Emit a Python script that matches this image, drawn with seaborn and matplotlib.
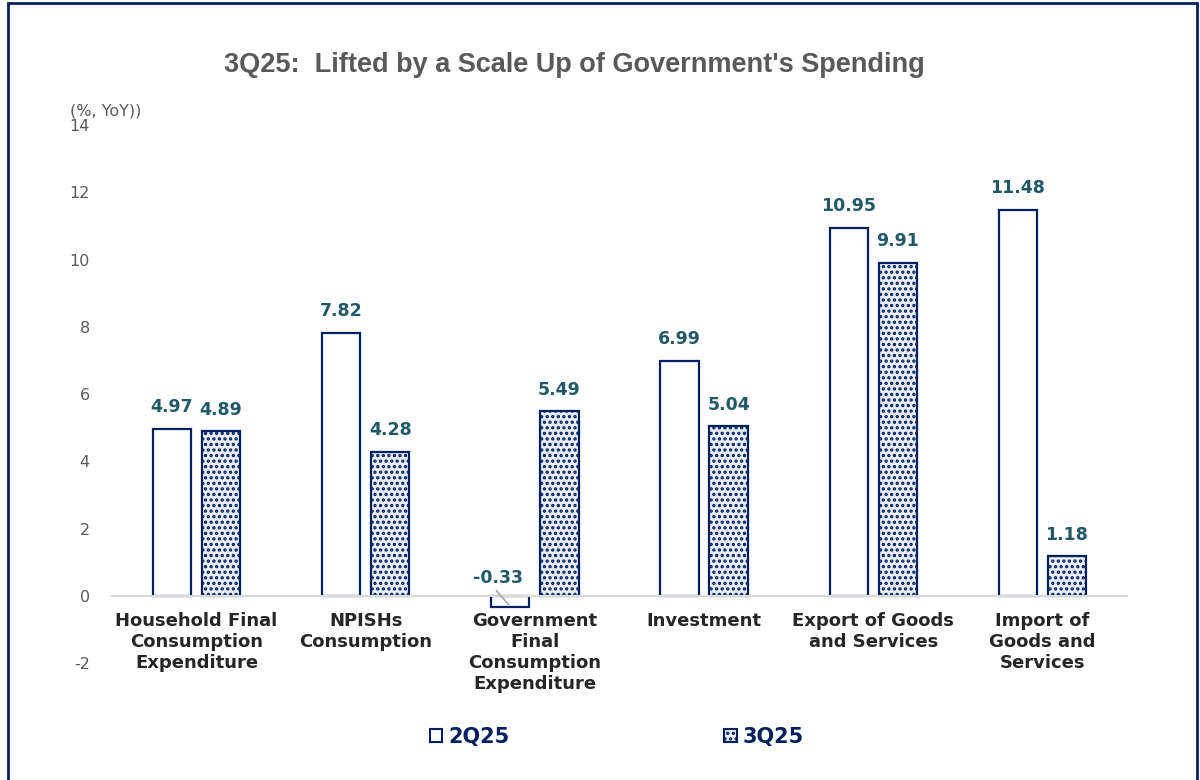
import pandas as pd
import numpy as np
import seaborn as sns
import matplotlib.pyplot as plt
from matplotlib.patches import Patch, Rectangle

# Chart data
categories = ['Household Final\nConsumption\nExpenditure', 'NPISHs\nConsumption',
              'Government\nFinal\nConsumption\nExpenditure', 'Investment',
              'Export of Goods\nand Services', 'Import of\nGoods and\nServices']
q2_values = [4.97, 7.82, -0.33, 6.99, 10.95, 11.48]
q3_values = [4.89, 4.28, 5.49, 5.04, 9.91, 1.18]
series = ['2Q25', '3Q25']
y_ticks = [-2, 0, 2, 4, 6, 8, 10, 12, 14]

navy = '#002060'
teal = '#215968'
grey = '#595959'

df = pd.DataFrame({
    'category': categories * 2,
    'value': q2_values + q3_values,
    'period': [series[0]] * len(categories) + [series[1]] * len(categories),
})

sns.set_style('white')
plt.rcParams['font.family'] = ['DejaVu Sans']
plt.rcParams['axes.unicode_minus'] = False
plt.rcParams['hatch.linewidth'] = 1.6

fig = plt.figure(figsize=(12, 7.8), dpi=100)
ax = fig.add_axes([0.0933, 0.15, 0.8458, 0.6897])

sns.barplot(data=df, x='category', y='value', hue='period', order=categories,
            hue_order=series, palette=['white', '#E9EDF5'], width=0.58, gap=0.22,
            edgecolor=navy, linewidth=1.6, legend=False, ax=ax)

# dotted fill for 3Q25
for bar in ax.containers[1]:
    bar.set_hatch('...')

ax.set_ylim(-2, 14)
ax.set_yticks(y_ticks)
ax.set_xlim(-0.5, len(categories) - 0.5)
ax.set_xlabel('')
ax.set_ylabel('')
for s in ['top', 'right', 'left']:
    ax.spines[s].set_visible(False)
ax.spines['bottom'].set_position(('data', 0))
ax.spines['bottom'].set_color('#D9D9D9')
ax.spines['bottom'].set_linewidth(1.5)
ax.tick_params(axis='x', length=0, pad=12, labelsize=13, labelcolor='#262626')
ax.tick_params(axis='y', length=0, pad=16, labelsize=11.5, labelcolor=grey)
for lbl in ax.get_xticklabels():
    lbl.set_fontweight('bold')
    lbl.set_linespacing(1.2)

# value labels
for cont in ax.containers:
    for bar in cont:
        h = bar.get_height()
        xc = bar.get_x() + bar.get_width() / 2
        if h >= 0:
            ax.annotate(f'{h:.2f}', (xc, h), xytext=(0, 9), textcoords='offset points',
                        ha='center', va='bottom', fontsize=12.5, fontweight='bold', color=teal)
        else:
            ax.annotate(f'{h:.2f}', xy=(xc - 0.01, h * 0.8), xytext=(xc - 0.07, 0.25),
                        ha='center', va='bottom', fontsize=12.5, fontweight='bold', color=teal,
                        arrowprops=dict(arrowstyle='-', color='#A6A6A6', lw=1.2,
                                        shrinkA=0, shrinkB=0, relpos=(0.4, 0)))

fig.text(0.479, 0.917, "3Q25:  Lifted by a Scale Up of Government's Spending",
         ha='center', va='center', fontsize=19.5, fontweight='bold', color=grey,
         family='Liberation Sans')
fig.text(0.058, 0.858, '(%, YoY))', ha='left', va='center', fontsize=11.5, color=grey)

handles = [Patch(facecolor='white', edgecolor=navy, linewidth=1.5),
           Patch(facecolor='#E9EDF5', edgecolor=navy, linewidth=1.5, hatch='...')]
leg = fig.legend(handles, series, loc='center', bbox_to_anchor=(0.514, 0.055), ncol=2,
                 frameon=False, handlelength=0.6, handleheight=0.6, handletextpad=0.3,
                 columnspacing=10.3, prop={'weight': 'bold', 'size': 15})
for t in leg.get_texts():
    t.set_color(navy)

fig.patches.append(Rectangle((0.0065, -0.01), 0.991, 1.0065, transform=fig.transFigure,
                             fill=False, edgecolor=navy, linewidth=2))

plt.savefig('out.png', dpi=100)
